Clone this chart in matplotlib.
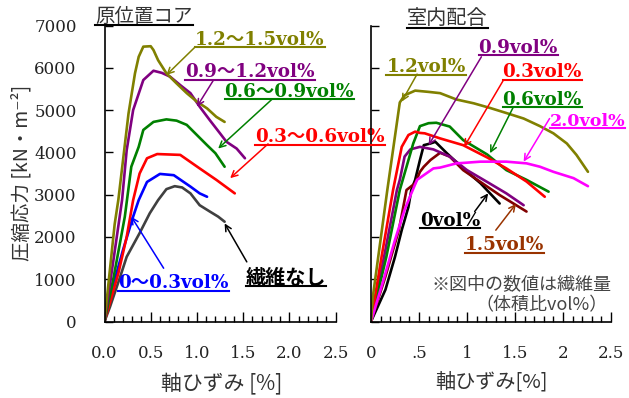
import numpy as np
import matplotlib.pyplot as plt
from matplotlib.ticker import MultipleLocator
from matplotlib.lines import Line2D

#stress-strain curves of fibre reinforced soil cement, core samples (left) and lab mixes (right)

#setup
numfont = ['DejaVu Serif', 'Noto Sans CJK JP']  #serif digits, CJK glyphs fall back to Noto
jpfont = ['Noto Sans CJK JP', 'DejaVu Sans']
W, H = 629, 398

# ---- core samples (原位置コア) ----
core_labels = ['繊維なし', '0～0.3vol%', '0.3～0.6vol%', '0.6～0.9vol%', '0.9～1.2vol%', '1.2～1.5vol%']
core_colors = ['#404040', '#0000FF', '#FF0000', '#008000', '#800080', '#808000']

core_strain_0 = [0, 0.06, 0.17, 0.24, 0.38, 0.49, 0.58, 0.67, 0.76, 0.84, 0.93, 1.03, 1.14, 1.23, 1.30]
core_stress_0 = [0, 350, 1060, 1530, 2090, 2560, 2870, 3130, 3200, 3170, 3030, 2750, 2600, 2480, 2360]
core_strain_1 = [0, 0.10, 0.20, 0.31, 0.37, 0.46, 0.60, 0.75, 0.93, 1.03, 1.11]
core_stress_1 = [0, 900, 1690, 2480, 2870, 3300, 3490, 3460, 3190, 3030, 2950]
core_strain_2 = [0, 0.15, 0.24, 0.31, 0.38, 0.46, 0.57, 0.82, 1.03, 1.21, 1.41]
core_stress_2 = [0, 1140, 2000, 2870, 3500, 3860, 3960, 3940, 3620, 3350, 3030]
core_strain_3 = [0, 0.10, 0.22, 0.29, 0.37, 0.42, 0.53, 0.67, 0.78, 0.89, 1.00, 1.11, 1.20, 1.30]
core_stress_3 = [0, 1060, 2480, 3660, 4130, 4530, 4720, 4780, 4750, 4650, 4410, 4170, 3980, 3660]
core_strain_4 = [0, 0.10, 0.19, 0.24, 0.31, 0.42, 0.53, 0.62, 0.71, 0.82, 0.93, 1.03, 1.14, 1.25, 1.32, 1.43, 1.52]
core_stress_4 = [0, 1500, 2870, 4050, 5000, 5710, 5930, 5880, 5790, 5590, 5400, 5080, 4760, 4450, 4250, 4090, 3860]
core_strain_5 = [0, 0.11, 0.15, 0.26, 0.33, 0.37, 0.42, 0.50, 0.53, 0.58, 0.67, 0.78, 0.89, 1.00, 1.11, 1.21, 1.30]
core_stress_5 = [0, 2300, 2880, 4920, 5870, 6260, 6500, 6510, 6420, 6180, 5870, 5630, 5400, 5200, 5040, 4840, 4720]

core_strain = [core_strain_0, core_strain_1, core_strain_2, core_strain_3, core_strain_4, core_strain_5]
core_stress = [core_stress_0, core_stress_1, core_stress_2, core_stress_3, core_stress_4, core_stress_5]

# ---- lab mixes (室内配合) ----
lab_labels = ['0vol%', '1.5vol%', '0.9vol%', '0.6vol%', '0.3vol%', '2.0vol%', '1.2vol%']
lab_colors = ['#000000', '#800000', '#800080', '#008000', '#FF0000', '#FF00FF', '#808000']

lab_strain_00 = [0, 0.15, 0.25, 0.32, 0.39, 0.42, 0.46, 0.51, 0.55, 0.62, 0.67, 0.79, 0.96, 1.14, 1.34]
lab_stress_00 = [0, 750, 1530, 2160, 2710, 3110, 3350, 3820, 4170, 4210, 4250, 3980, 3620, 3270, 2790]
lab_strain_15 = [0, 0.15, 0.29, 0.37, 0.46, 0.51, 0.55, 0.62, 0.72, 0.82, 0.96, 1.14, 1.34, 1.62]
lab_stress_15 = [0, 1060, 2160, 3110, 3270, 3540, 3660, 3820, 3990, 3900, 3580, 3300, 2990, 2600]
lab_strain_09 = [0, 0.15, 0.27, 0.30, 0.35, 0.41, 0.51, 0.65, 0.82, 1.00, 1.21, 1.41, 1.59]
lab_stress_09 = [0, 1690, 3110, 3350, 3900, 4070, 4130, 4070, 3900, 3580, 3300, 3030, 2750]
lab_strain_06 = [0, 0.16, 0.30, 0.44, 0.51, 0.60, 0.68, 0.82, 0.96, 1.21, 1.41, 1.62, 1.85]
lab_stress_06 = [0, 1530, 3110, 4210, 4620, 4690, 4700, 4610, 4290, 3950, 3580, 3350, 3070]
lab_strain_03 = [0, 0.11, 0.23, 0.32, 0.39, 0.46, 0.51, 0.56, 0.72, 0.96, 1.21, 1.41, 1.62, 1.81]
lab_stress_03 = [0, 1530, 3110, 4130, 4410, 4490, 4460, 4450, 4330, 4170, 3880, 3620, 3310, 2950]
lab_strain_20 = [0, 0.13, 0.25, 0.35, 0.42, 0.48, 0.65, 0.72, 0.89, 0.96, 1.14, 1.31, 1.41, 1.62, 1.76, 1.90, 2.11, 2.26]
lab_stress_20 = [0, 980, 1930, 2640, 3030, 3350, 3620, 3640, 3740, 3750, 3780, 3780, 3780, 3740, 3660, 3540, 3390, 3200]
lab_strain_12 = [0, 0.02, 0.17, 0.30, 0.35, 0.46, 0.60, 0.72, 0.89, 1.07, 1.24, 1.41, 1.59, 1.76, 1.90, 2.04, 2.14, 2.26]
lab_stress_12 = [0, 600, 3110, 5180, 5350, 5460, 5430, 5400, 5250, 5160, 5050, 4930, 4800, 4620, 4450, 4210, 3940, 3540]

lab_strain = [lab_strain_00, lab_strain_15, lab_strain_09, lab_strain_06, lab_strain_03, lab_strain_20, lab_strain_12]
lab_stress = [lab_stress_00, lab_stress_15, lab_stress_09, lab_stress_06, lab_stress_03, lab_stress_20, lab_stress_12]

core_xticklabels = ['0.0', '0.5', '1.0', '1.5', '2.0', '2.5']
lab_xticklabels = ['0', '.5', '1', '1.5', '2', '2.5']
yticklabels = ['0', '1000', '2000', '3000', '4000', '5000', '6000', '7000']

# label placement: (text x, text baseline y, arrow start x, arrow start y, arrow tip x, arrow tip y) in data units
core_notes = [
    (1.53, 890, 1.54, 1410, 1.30, 2320),
    (0.15, 790, 0.64, 1260, 0.29, 2480),
    (1.63, 4240, 1.77, 4200, 1.36, 3390),
    (1.30, 5310, 1.81, 5250, 1.23, 4090),
    (0.87, 5780, 1.18, 5710, 1.00, 5080),
    (0.98, 6540, 0.98, 6490, 0.67, 5830),
]
lab_notes = [
    (0.51, 2270, 1.08, 2600, 1.22, 3030),
    (0.98, 1680, 1.30, 2160, 1.51, 2780),
    (1.12, 6350, 1.15, 6260, 0.60, 4170),
    (1.37, 5120, 1.48, 5060, 1.24, 3980),
    (1.37, 5780, 1.38, 5710, 0.97, 4130),
    (1.86, 4630, 1.86, 4800, 1.59, 3780),
    (0.16, 5900, 0.48, 5850, 0.32, 5200),
]
lab_label_colors = ['#000000', '#993300', '#800080', '#008000', '#FF0000', '#FF00FF', '#808000']
lab_label_sizes = [13.2, 13.2, 13.2, 13.2, 13.2, 12.6, 13.2]

fig = plt.figure(figsize=(W / 100, H / 100), dpi=100)
ax1 = fig.add_axes([104.5 / W, 76.5 / H, 231 / W, 296 / H])
ax2 = fig.add_axes([371 / W, 76.5 / H, 240 / W, 296 / H])

def setup_axes(ax, xticklabels, show_y):
    #axes look: only left/bottom spines, inward ticks
    ax.patch.set_visible(False)
    ax.set_xlim(0, 2.5)
    ax.set_ylim(0, 7000)
    for s in ['top', 'right']:
        ax.spines[s].set_visible(False)
    for s in ['left', 'bottom']:
        ax.spines[s].set_linewidth(1.2)
    ax.xaxis.set_major_locator(MultipleLocator(0.5))
    ax.xaxis.set_minor_locator(MultipleLocator(0.1))
    ax.yaxis.set_major_locator(MultipleLocator(1000))
    ax.set_xticks(np.arange(0, 2.51, 0.5))
    ax.set_xticklabels(xticklabels)
    ax.tick_params(axis='x', which='major', direction='in', length=7, width=1, pad=17)
    ax.tick_params(axis='x', which='minor', direction='in', length=4.5, width=1)
    ax.tick_params(axis='y', direction='in', length=6, width=1, pad=20)
    if show_y:
        ax.set_yticks(np.arange(0, 7001, 1000))
        ax.set_yticklabels(yticklabels)
    else:
        ax.tick_params(axis='y', labelleft=False)
    for t in ax.get_xticklabels() + ax.get_yticklabels():
        t.set_fontfamily(numfont)
        t.set_fontsize(12)
        t.set_color('#222222')

setup_axes(ax1, core_xticklabels, True)
setup_axes(ax2, lab_xticklabels, False)

# curves
for x, y, c in zip(core_strain, core_stress, core_colors):
    ax1.plot(x, y, color=c, lw=1.9, solid_joinstyle='round', solid_capstyle='round')
for x, y, c in zip(lab_strain, lab_stress, lab_colors):
    ax2.plot(x, y, color=c, lw=1.9, solid_joinstyle='round', solid_capstyle='round')

# labels with arrows
texts = []
def put_label(ax, note, text, color, font, size=13.2):
    tx, ty, sx, sy, px, py = note
    t = ax.text(tx, ty, text, color=color, fontsize=size, fontweight='bold', family=font,
                ha='left', va='baseline', zorder=5)
    ax.annotate('', xy=(px, py), xytext=(sx, sy), zorder=5,
                arrowprops=dict(arrowstyle='->', color=color, lw=1.1, mutation_scale=11,
                                shrinkA=0, shrinkB=0))
    texts.append((t, color, 2.5))

for i in range(len(core_labels)):
    if i == 0:
        put_label(ax1, core_notes[i], core_labels[i], '#000000', jpfont, size=14.5)
    else:
        put_label(ax1, core_notes[i], core_labels[i], core_colors[i], numfont)
for i in range(len(lab_labels)):
    put_label(ax2, lab_notes[i], lab_labels[i], lab_label_colors[i], numfont, size=lab_label_sizes[i])

# panel titles
t1 = fig.text(95 / W, 1 - 22 / H, '原位置コア', fontsize=14, family=jpfont, color='#333333', va='baseline')
t2 = fig.text(407 / W, 1 - 24 / H, '室内配合', fontsize=14.5, family=jpfont, color='#333333', va='baseline')
texts.append((t1, '#000000', 3))
texts.append((t2, '#000000', 4))

# axis labels
fig.text(22 / W, 1 - 173 / H, '圧縮応力 [kN・m⁻²]', rotation=90, fontsize=14, family=numfont[::-1],
         color='#333333', ha='center', va='center')
fig.text(222 / W, 1 - 383 / H, '軸ひずみ [%]', fontsize=15, family=jpfont, color='#333333', ha='center', va='center')
fig.text(491 / W, 1 - 382 / H, '軸ひずみ[%]', fontsize=14.5, family=jpfont, color='#333333', ha='center', va='center')

# note about the numbers
fig.text(612 / W, 1 - 284 / H, '※図中の数値は繊維量', fontsize=13, family=jpfont, color='#444444', ha='right', va='center')
fig.text(608 / W, 1 - 305 / H, '（体積比vol%）', fontsize=13, family=jpfont, color='#444444', ha='right', va='center')

# underline every label
fig.canvas.draw()
renderer = fig.canvas.get_renderer()
inv = fig.transFigure.inverted()
for t, color, gap in texts:
    bb = t.get_window_extent(renderer)
    base = t.get_transform().transform(t.get_position())[1]
    (x0, y0), (x1, y1) = inv.transform([(bb.x0, base - gap), (bb.x1, base - gap)])
    fig.add_artist(Line2D([x0, x1], [y0, y1], transform=fig.transFigure, color=color, lw=1.5))

plt.savefig('out.png', dpi=100)
